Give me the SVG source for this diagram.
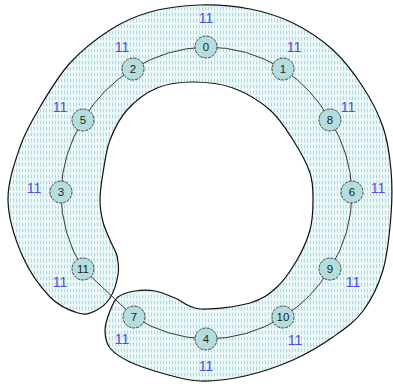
<svg xmlns="http://www.w3.org/2000/svg" width="393" height="384" viewBox="0 0 393 384">
<defs>
<pattern id="hatch" width="3" height="6" patternUnits="userSpaceOnUse">
<rect width="3" height="6" fill="#f2fafa"/>
<line x1="1.2" y1="0.5" x2="1.8" y2="4.5" stroke="#a2d6da" stroke-width="1"/>
</pattern>
<style>
.node circle{fill:#b4dede;stroke:#333;stroke-width:0.9;stroke-dasharray:3 1}
.node text{font-family:"Liberation Sans",Arial,sans-serif;font-size:11.5px;fill:#222;text-anchor:middle}
.lbl{font-family:"Liberation Sans",Arial,sans-serif;font-size:14px;fill:#4b4bf5;text-anchor:middle}
.edge{fill:none;stroke:#222;stroke-width:0.9}
</style>
</defs>
<rect width="393" height="384" fill="#fff"/>
<path id="region" d="M118,297 C122.2,293.7 128.8,292 135,291 C141.2,290 148.3,289.8 155,291 C161.7,292.2 167.5,295 175,298 C182.5,301 187.5,308.2 200,309 C212.5,309.8 237.2,306.7 250,303 C262.8,299.3 269.2,294.2 277,287 C284.8,279.8 291.5,269.5 297,260 C302.5,250.5 307.3,240 310,230 C312.7,220 313,209.5 313,200 C313,190.5 313.3,183 310,173 C306.7,163 299.7,150.5 293,140 C286.3,129.5 280,118.7 270,110 C260,101.3 245.8,92.7 233,88 C220.2,83.3 205.7,82 193,82 C180.3,82 168,83.3 157,88 C146,92.7 134.8,101.3 127,110 C119.2,118.7 114,129.5 110,140 C106,150.5 104.7,163 103,173 C101.3,183 100,191.8 100,200 C100,208.2 101.3,215.3 103,222 C104.7,228.7 107.7,234.3 110,240 C112.3,245.7 115.7,250.2 117,256 C118.3,261.8 119.2,268 118,275 C116.8,282 113.8,292 110,298 C106.2,304 100.3,308.5 95,311 C89.7,313.5 85.5,315.3 78,313 C70.5,310.7 59.3,306.7 50,297 C40.7,287.3 29,271.2 22,255 C15,238.8 8.3,218 8,200 C7.7,182 14.7,162.5 20,147 C25.3,131.5 31.7,121 40,107 C48.3,93 58.3,75.8 70,63 C81.7,50.2 96.7,38.5 110,30 C123.3,21.5 135,16.2 150,12 C165,7.8 183.3,5.5 200,5 C216.7,4.5 234.5,6 250,9 C265.5,12 279.2,16.2 293,23 C306.8,29.8 321.3,39.3 333,50 C344.7,60.7 354.7,74.2 363,87 C371.3,99.8 378.3,113.2 383,127 C387.7,140.8 389.7,155.3 391,170 C392.3,184.7 392.3,198.3 391,215 C389.7,231.7 387.7,254 383,270 C378.3,286 371.3,299.8 363,311 C354.7,322.2 344.7,328.8 333,337 C321.3,345.2 307.7,353.5 293,360 C278.3,366.5 260.5,372.5 245,376 C229.5,379.5 213.3,381.3 200,381 C186.7,380.7 176.7,377.2 165,374 C153.3,370.8 139.2,366.3 130,362 C120.8,357.7 114.2,353.3 110,348 C105.8,342.7 105,336.2 105,330 C105,323.8 107.8,316.5 110,311 C112.2,305.5 113.8,300.3 118,297 Z" fill="url(#hatch)" stroke="#111" stroke-width="1.2"/>
<g id="edges">
<path class="edge" d="M206,47 A146,146 0 0 1 283,69"/>
<path class="edge" d="M283,69 A146,146 0 0 1 330,120"/>
<path class="edge" d="M330,120 A146,146 0 0 1 352,192"/>
<path class="edge" d="M352,192 A146,146 0 0 1 330,269"/>
<path class="edge" d="M330,269 A146,146 0 0 1 283,317"/>
<path class="edge" d="M283,317 A146,146 0 0 1 206,339"/>
<path class="edge" d="M206,339 A146,146 0 0 1 134,317"/>
<path class="edge" d="M134,317 L83,269"/>
<path class="edge" d="M83,269 A146,146 0 0 1 61,192"/>
<path class="edge" d="M61,192 A146,146 0 0 1 83,120"/>
<path class="edge" d="M83,120 A146,146 0 0 1 133,69"/>
<path class="edge" d="M133,69 A146,146 0 0 1 206,47"/>
</g>
<g id="n0" class="node"><circle cx="206" cy="47" r="11"/><text x="206" y="51">0</text></g>
<g id="n1" class="node"><circle cx="283" cy="69" r="11"/><text x="283" y="73">1</text></g>
<g id="n8" class="node"><circle cx="330" cy="120" r="11"/><text x="330" y="124">8</text></g>
<g id="n6" class="node"><circle cx="352" cy="192" r="11"/><text x="352" y="196">6</text></g>
<g id="n9" class="node"><circle cx="330" cy="269" r="11"/><text x="330" y="273">9</text></g>
<g id="n10" class="node"><circle cx="283" cy="317" r="11"/><text x="283" y="321">10</text></g>
<g id="n4" class="node"><circle cx="206" cy="339" r="11"/><text x="206" y="343">4</text></g>
<g id="n7" class="node"><circle cx="134" cy="317" r="11"/><text x="134" y="321">7</text></g>
<g id="n11" class="node"><circle cx="83" cy="269" r="11"/><text x="83" y="273">11</text></g>
<g id="n3" class="node"><circle cx="61" cy="192" r="11"/><text x="61" y="196">3</text></g>
<g id="n5" class="node"><circle cx="83" cy="120" r="11"/><text x="83" y="124">5</text></g>
<g id="n2" class="node"><circle cx="133" cy="69" r="11"/><text x="133" y="73">2</text></g>
<g id="labels">
<text class="lbl" x="206" y="23">11</text>
<text class="lbl" x="294" y="52">11</text>
<text class="lbl" x="122" y="52">11</text>
<text class="lbl" x="348" y="112">11</text>
<text class="lbl" x="60" y="112">11</text>
<text class="lbl" x="378" y="193">11</text>
<text class="lbl" x="34" y="193">11</text>
<text class="lbl" x="353" y="287">11</text>
<text class="lbl" x="60" y="287">11</text>
<text class="lbl" x="295" y="345">11</text>
<text class="lbl" x="122" y="344">11</text>
<text class="lbl" x="206" y="371">11</text>
</g>
</svg>
